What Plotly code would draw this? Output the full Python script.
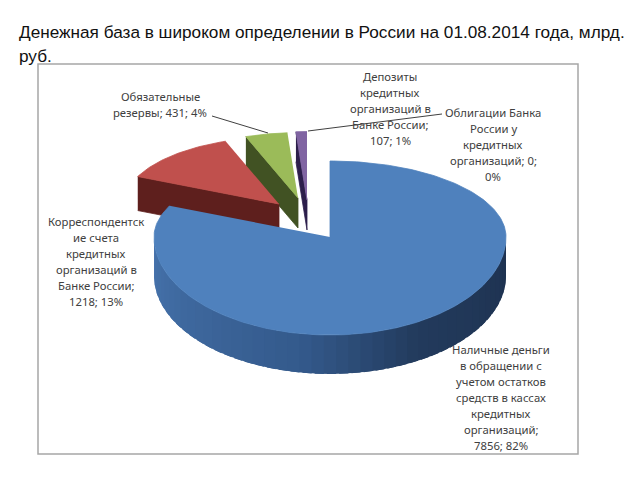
import numpy as np
import plotly.graph_objects as go

# ---- data -------------------------------------------------------------
categories = ["Наличные деньги", "Корреспондентские счета", "Обязательные резервы",
              "Депозиты", "Облигации Банка России"]
values = [7856, 1218, 431, 107, 0]
labels = [
    ["Наличные деньги", "в обращении с", "учетом остатков", "средств в кассах", "кредитных", "организаций;", "7856; 82%"],
    ["Корреспондентск", "ие счета", "кредитных", "организаций в", "Банке России;", "1218; 13%"],
    ["Обязательные", "резервы; 431; 4%"],
    ["Депозиты", "кредитных", "организаций в", "Банке России;", "107; 1%"],
    ["Облигации Банка", "России у", "кредитных", "организаций; 0;", "0%"],
]
title_lines = ["Денежная база в широком определении в России на 01.08.2014 года, млрд.", "руб."]

# ---- style / layout ----------------------------------------------------
top_colors = ["#4f81bd", "#c0504d", "#9bbb59", "#8064a2", "#4bacc6"]
side_colors = ["#2f5480", "#5e1f1d", "#415223", "#2c1e4b", "#2b6a7c"]
apex = [(330, 237), (279, 204), (298, 198), (307, 200), (330, 237)]
scale = [1.0, 0.88, 0.86, 0.9, 0.9]
depth = [39, 34, 30, 30, 30]
RX, RY_BACK, RY_FRONT = 176, 76, 98
label_xy = [(501, 349), (96, 221), (160, 96), (390, 76), (493, 112)]  # centre of first line
LINE_STEP = 16.1
title_xy = [(16.5, 32), (16.5, 56)]
leaders = [((212, 116), (268, 133)), ((308, 131), (442, 114))]
FRAME = (38, 64, 578, 454)
PAGE = 8  # the browser's default body margin


def point(c, th, k):
    """Point on the elliptical rim; th is degrees clockwise from 12 o'clock."""
    t = np.radians(th)
    ry = np.where(np.cos(t) > 0, RY_BACK, RY_FRONT)
    return c[0] + k * RX * np.sin(t), c[1] - k * ry * np.cos(t)


def poly(fig, xs, ys, color, lw=0.8):
    fig.add_trace(go.Scatter(x=list(xs), y=list(ys), mode="lines", fill="toself",
                             fillcolor=color, line=dict(color=color, width=lw),
                             hoverinfo="skip", showlegend=False))


def mix(a, b, f):
    return "#%02x%02x%02x" % tuple(round(a[i] + (b[i] - a[i]) * f) for i in range(3))


fig = go.Figure()
total = sum(values)
edges = np.concatenate([[0], np.cumsum(values) / total * 360])

# back slices first, blue last
for i in [4, 3, 2, 1]:
    a0, a1 = edges[i], edges[i + 1]
    if a1 - a0 <= 0:
        continue
    th = np.linspace(a0, a1, 40)
    ex, ey = point(apex[i], a0, scale[i])
    # radial cut face
    poly(fig, [ex, apex[i][0], apex[i][0], ex],
         [ey, apex[i][1], apex[i][1] + depth[i], ey + depth[i]], side_colors[i])
    rx_, ry_ = point(apex[i], th, scale[i])
    poly(fig, [apex[i][0], *rx_], [apex[i][1], *ry_], top_colors[i])

# blue slice: outer wall as shaded strips, each overlapping the next
stops = [(90, (30, 50, 80)), (150, (34, 58, 92)), (190, (52, 90, 140)), (270, (70, 115, 172))]
wall = np.linspace(90, 270, 46)
for a, b in zip(wall[:-1], wall[1:]):
    m = (a + b) / 2
    for (s0, c0), (s1, c1) in zip(stops[:-1], stops[1:]):
        if s0 <= m <= s1:
            col = mix(c0, c1, (m - s0) / (s1 - s0))
    arc = np.linspace(a, min(b + 3, 270), 8)
    xa, ya = point(apex[0], arc, 1.0)
    poly(fig, [*xa, *xa[::-1]], [*ya, *(ya[::-1] + depth[0])], col, lw=0)

th = np.linspace(edges[0], edges[1], 240)
rx_, ry_ = point(apex[0], th, 1.0)
poly(fig, [apex[0][0], *rx_], [apex[0][1], *ry_], top_colors[0])

# leader lines
for (p, q) in leaders:
    fig.add_trace(go.Scatter(x=[p[0], q[0]], y=[p[1], q[1]], mode="lines",
                             line=dict(color="#404040", width=1),
                             hoverinfo="skip", showlegend=False))

for lab, (x, y) in zip(labels, label_xy):
    for n, line in enumerate(lab):
        fig.add_annotation(x=x, y=y + n * LINE_STEP, text=line, showarrow=False,
                           xanchor="center", yanchor="middle", align="center",
                           font=dict(family="Noto Sans", size=11.3, color="#404040"))

for line, (x, y) in zip(title_lines, title_xy):
    fig.add_annotation(x=x, y=y, text=line, showarrow=False, xanchor="left", yanchor="middle",
                       align="left", font=dict(family="Liberation Sans", size=17.2, color="#111111"))

fig.add_shape(type="rect", x0=FRAME[0], y0=FRAME[1], x1=FRAME[2], y1=FRAME[3],
              line=dict(color="#a6a6a6", width=1.5), fillcolor="white", layer="below")

fig.update_layout(width=640 - PAGE, height=480 - PAGE, margin=dict(l=0, r=0, t=0, b=0),
                  paper_bgcolor="white", plot_bgcolor="white", showlegend=False,
                  xaxis=dict(range=[PAGE, 640], visible=False, fixedrange=True),
                  yaxis=dict(range=[480, PAGE], visible=False, fixedrange=True))
fig.write_html("out.html", config={"displayModeBar": False})
